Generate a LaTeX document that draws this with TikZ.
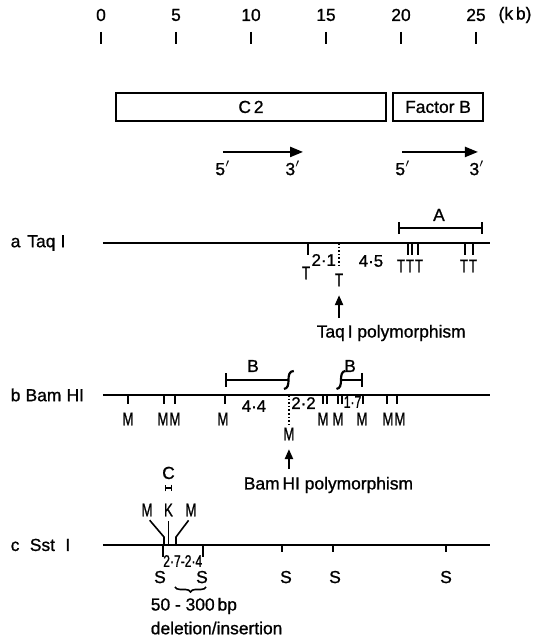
\documentclass[tikz,border=0pt]{standalone}
\usepackage{fontspec}
\setmainfont{Liberation Sans}[FakeBold=1]
\newfontfamily\narrowfont{Liberation Sans}[FakeStretch=0.72, FakeBold=1]
\usetikzlibrary{arrows.meta, positioning, calc, decorations.pathreplacing}

\begin{document}
\begin{tikzpicture}[x=7.5pt, y=-7.5pt, line width=0.8pt,
    txt/.style={inner sep=0pt, font=\fontsize{8.7}{10}\selectfont},
    site/.style={inner sep=0pt, font=\narrowfont\fontsize{9.2}{10}\selectfont},
    frag/.style={inner sep=0pt, font=\fontsize{8.4}{9}\selectfont},
    nfrag/.style={inner sep=0pt, font=\narrowfont\fontsize{8.4}{9}\selectfont},
    dna/.style={line width=1.1pt},
    gene/.style={draw, line width=1.1pt, minimum height=14pt, inner sep=0pt, font=\fontsize{8.7}{10}\selectfont},
    dir/.style={line width=1.1pt, -{Triangle[length=6.5pt, width=5pt]}},
    pol/.style={line width=1.1pt, -{Triangle[length=5pt, width=4pt]}, shorten >=4pt}]
    \useasboundingbox (-6.733,0) rectangle (28.867,42.333);

    \foreach \k in {0,5,...,25} {
        \node[txt] (s\k) at (\k,1) {\k};
        \draw (\k,2.13) -- (\k,2.93);
    }
    \node[txt] (kb) at (27.6,1) {(k\,b)};

    \node[gene, minimum width=135pt] (c2) at (10,7.13) {C\,2};
    \node[gene, minimum width=45pt] (fb) at (22.47,7.13) {Factor B};

    \node[txt] (c2five) at (8.13,11.2) {5$'$};
    \node[txt] (c2three) at (12.8,11.2) {3$'$};
    \node[txt] (fbfive) at (20.13,11.2) {5$'$};
    \node[txt] (fbthree) at (25.07,11.2) {3$'$};
    \draw[dir] (8.13,10.13) -- (13.47,10.13);
    \draw[dir] (20.07,10.13) -- (25.13,10.13);

    % a Taq I
    \node[txt, anchor=west] (taq) at (-6.07,16.2) {a\hspace{0.4em}Taq\hspace{0.3em}I};
    \draw[dna] (0.13,16.2) -- (25.9,16.2);
    \draw[dna, {Bar[width=6pt]}-{Bar[width=6pt]}] (19.8,15.2) -- (25.47,15.2);
    \node[txt] (pa) at (22.53,14.33) {A};
    \foreach \x in {13.8, 20.47, 20.73, 21.13, 24.27, 24.8}
        \draw (\x,16.2) -- (\x,17.0);
    \foreach \n/\x/\y in {t1/13.67/18.2, t3/20.0/17.73, t4/20.6/17.73, t5/21.2/17.73, t6/24.2/17.73, t7/24.8/17.73}
        \node[site] (\n) at (\x,\y) {T};
    \draw[densely dotted] (15.87,16.2) -- (15.87,17.87);
    \node[site] (t2) at (15.87,18.67) {T};
    \node[frag] (ta) at (14.85,17.33) {2·1};
    \node[frag] (tb) at (18.0,17.4) {4·5};
    \coordinate (tqfoot) at (15.87,21.2);
    \draw[pol] (tqfoot) -- (t2.south);
    \node[txt, anchor=west] (tqpoly) at (14.33,22.2) {Taq\,I polymorphism};

    % b Bam HI
    \node[txt, anchor=west] (bam) at (-6.07,26.33) {b\hspace{0.3em}Bam\hspace{0.3em}HI};
    \draw[dna] (0.13,26.33) -- (25.9,26.33);
    \draw[dna, {Bar[width=7pt]}-] (8.27,25.33) -- (12.5,25.33);
    \draw[dna] (12.85,24.73) .. controls (12.55,24.75) and (12.5,25.0) .. (12.5,25.33)
        .. controls (12.5,25.65) and (12.45,25.9) .. (12.2,25.93);
    \node[txt] (pb1) at (10.13,24.4) {B};
    \draw[dna, -{Bar[width=7pt]}] (16.0,25.33) -- (17.47,25.33);
    \draw[dna] (16.3,24.73) .. controls (16.05,24.75) and (16.0,25.0) .. (16.0,25.33)
        .. controls (16.0,25.65) and (15.95,25.9) .. (15.7,25.93);
    \node[txt] (pb2) at (16.6,24.4) {B};
    \foreach \x in {1.8, 4.2, 4.93, 8.27, 14.8, 15.07, 15.8, 16.07, 17.47, 19.07, 19.73}
        \draw (\x,26.33) -- (\x,26.93);
    \foreach \n/\x in {m1/1.8, m2/4.13, m3/4.93, m4/8.13, m6/14.8, m7/15.8, m8/17.4, m9/19.13, m10/19.93}
        \node[site] (\n) at (\x,27.93) {M};
    \draw[densely dotted] (12.53,26.33) -- (12.53,28.33);
    \node[site] (m5) at (12.53,28.93) {M};
    \node[frag] (ba) at (10.2,27.07) {4·4};
    \node[frag] (bb) at (13.5,26.87) {2·2};
    \node[nfrag] (bc) at (16.77,26.8) {1·7};
    \coordinate (bmfoot) at (12.53,31.27);
    \draw[pol] (bmfoot) -- (m5.south);
    \node[txt, anchor=west] (bmpoly) at (9.47,32.33) {Bam\,HI polymorphism};

    % c Sst I
    \node[txt, anchor=west] (sst) at (-6.07,36.33) {c\hspace{0.6em}Sst\hspace{0.6em}I};
    \draw[dna] (0.13,36.33) -- (25.9,36.33);
    \node[txt] (cc) at (4.5,31.53) {C};
    \draw[line width=0.7pt, {Bar[width=3.4pt]}-{Bar[width=3.4pt]}] (4.27,32.53) -- (4.73,32.53);
    \node[site] (ml) at (3.07,34) {M};
    \node[site] (kk) at (4.5,34) {K};
    \node[site] (mr) at (6.0,34) {M};
    \draw[shorten <=2pt] (ml.south) -- (4.2,35.8) -- (4.2,36.33);
    \draw[shorten <=2pt] (kk.south) -- (4.5,36.33);
    \draw[shorten <=2pt] (mr.south) -- (5.0,35.8) -- (5.0,36.33);
    \foreach \x/\y in {4.13/37.13, 6.8/37.13, 12.07/36.8, 15.47/36.8, 23.0/36.8}
        \draw (\x,36.33) -- (\x,\y);
    \foreach \n/\x in {s1/3.93, s2/6.73, s3/12.33, s4/15.6, s5/23.0}
        \node[txt] (\n) at (\x,38.47) {S};
    \node[nfrag] (sa) at (5.45,37.4) {2·7-2·4};
    \draw[line width=0.8pt, decorate, decoration={brace, amplitude=2.5pt}] (7.0,39.13) -- (4.93,39.13);
    \node[txt, anchor=west] (indel) at (3.27,40.4) {50 - 300\,bp};
    \node[txt, anchor=west] (indel2) at (3.27,41.87) {deletion/insertion};
\end{tikzpicture}
\end{document}
